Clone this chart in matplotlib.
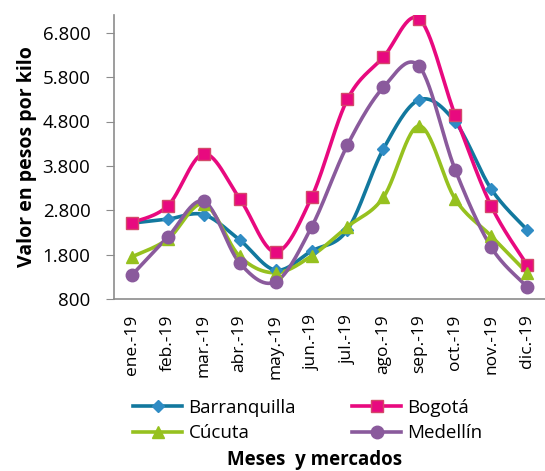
import numpy as np
import matplotlib
matplotlib.use("Agg")
from matplotlib import pyplot as plt
from matplotlib.lines import Line2D

meses = ["ene.-19", "feb.-19", "mar.-19", "abr.-19", "may.-19", "jun.-19",
         "jul.-19", "ago.-19", "sep.-19", "oct.-19", "nov.-19", "dic.-19"]
barranquilla = [2510, 2600, 2700, 2130, 1450, 1880, 2360, 4180, 5290, 4790, 3280, 2360]
bogota = [2520, 2900, 4070, 3060, 1860, 3090, 5300, 6250, 7110, 4940, 2900, 1570]
cucuta = [1750, 2150, 2940, 1760, 1390, 1770, 2430, 3090, 4700, 3050, 2220, 1390]
medellin = [1340, 2200, 3000, 1610, 1190, 2420, 4270, 5570, 6040, 3710, 1970, 1080]
yticks = [800, 1800, 2800, 3800, 4800, 5800, 6800]


def smooth(x, y, n=30):
    # Catmull-Rom style curve, like Excel's "smoothed line"
    x = np.asarray(x, float)
    y = np.asarray(y, float)
    px, py = [], []
    for i in range(len(x) - 1):
        x0, y0 = (x[i - 1], y[i - 1]) if i > 0 else (x[i], y[i])
        x3, y3 = (x[i + 2], y[i + 2]) if i + 2 < len(x) else (x[i + 1], y[i + 1])
        x1, y1, x2, y2 = x[i], y[i], x[i + 1], y[i + 1]
        c1x, c1y = x1 + (x2 - x0) / 6, y1 + (y2 - y0) / 6
        c2x, c2y = x2 - (x3 - x1) / 6, y2 - (y3 - y1) / 6
        t = np.linspace(0, 1, n)
        b0, b1, b2, b3 = (1 - t) ** 3, 3 * t * (1 - t) ** 2, 3 * t ** 2 * (1 - t), t ** 3
        px.extend(b0 * x1 + b1 * c1x + b2 * c2x + b3 * x2)
        py.extend(b0 * y1 + b1 * c1y + b2 * c2y + b3 * y2)
    return px, py


plt.rcParams['font.family'] = ['Open Sans', 'DejaVu Sans']

fig = plt.figure(figsize=(5.45, 4.71), dpi=100)
ax = fig.add_axes([114 / 545, 172 / 471, 431 / 545, 284 / 471])

x = np.arange(len(meses))
series = [
    ("Barranquilla", barranquilla, "#12789E", "D", "#2F8CC4", "#2F8CC4", 6),
    ("Bogotá", bogota, "#E8097F", "s", "#E8097F", "#D4486A", 8),
    ("Cúcuta", cucuta, "#96C11F", "^", "#96C11F", "#96C11F", 9),
    ("Medellín", medellin, "#8A5A9C", "o", "#8A5A9C", "#8A5A9C", 9),
]
handles = {}
for name, vals, col, mk, mfc, mec, ms in series:
    sx, sy = smooth(x, vals)
    ax.plot(sx, sy, color=col, lw=2.6, zorder=2)
    ax.plot(x, vals, linestyle="none", marker=mk, ms=ms, mfc=mfc, mec=mec,
            mew=1, zorder=3)
    handles[name] = Line2D([], [], color=col, lw=2.6, marker=mk, ms=ms,
                           mfc=mfc, mec=mec, label=name)

ax.set_xlim(-0.5, 11.5)
ax.set_ylim(800, 7200)
ax.set_yticks(yticks)
ax.set_yticklabels([f"{v:,}".replace(",", ".") for v in yticks], fontsize=13.5)
ax.set_xticks(x)
ax.set_xticklabels(meses, rotation=90, fontsize=12.5)
ax.tick_params(axis="x", length=0, pad=11)
ax.tick_params(axis="y", length=6, color="#8C8C8C", direction="out", pad=11)
for s in ["top", "right"]:
    ax.spines[s].set_visible(False)
for s in ["left", "bottom"]:
    ax.spines[s].set_color("#8C8C8C")
    ax.spines[s].set_linewidth(1.2)

ax.set_ylabel("Valor en pesos por kilo", fontsize=14, fontweight="bold", labelpad=4)
fig.text(0.577, 0.002, "Meses  y mercados", fontsize=13.5, fontweight="bold",
         ha="center", va="bottom")

# matplotlib fills legend columns first, so order gives rows Barr/Bog, Cúc/Med
order = ["Barranquilla", "Cúcuta", "Bogotá", "Medellín"]
fig.legend(handles=[handles[k] for k in order], ncol=2, loc="center",
           bbox_to_anchor=(0.565, 0.107), frameon=False, fontsize=13.5,
           handlelength=2.6, columnspacing=3.0, labelspacing=0.4,
           handletextpad=0.35, borderpad=0)

fig.savefig("out.png", dpi=100)
